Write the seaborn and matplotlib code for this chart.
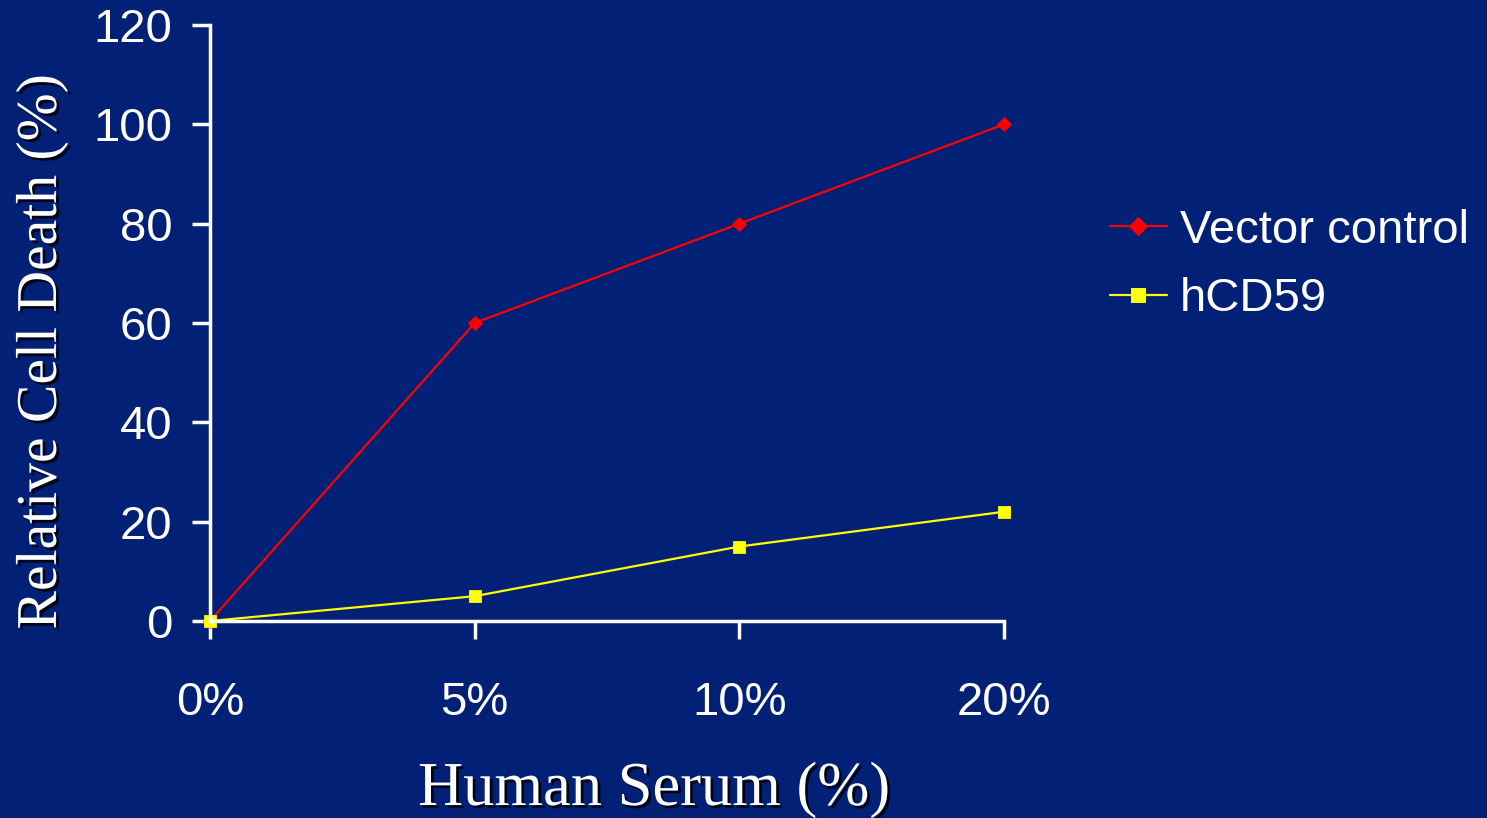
import matplotlib
matplotlib.use("Agg")
import matplotlib.pyplot as plt
import matplotlib.patheffects as pe
import pandas as pd
import seaborn as sns

serum_levels = ["0%", "5%", "10%", "20%"]
vector_control = [0, 60, 80, 100]
hcd59 = [0, 5, 15, 22]
series_names = ["Vector control", "hCD59"]
y_ticks = [0, 20, 40, 60, 80, 100, 120]

bg = "#022075"

df = pd.DataFrame({
    "pos": list(range(len(serum_levels))) * 2,
    "death": vector_control + hcd59,
    "group": [series_names[0]] * len(serum_levels) + [series_names[1]] * len(serum_levels),
})

sns.set_theme(style="white")
plt.rcParams["font.family"] = ["Liberation Sans", "DejaVu Sans"]

fig = plt.figure(figsize=(14.87, 8.18), dpi=100, facecolor=bg)
ax = fig.add_axes([0.1412, 0.2408, 0.5340, 0.7286])
ax.set_facecolor(bg)

sns.lineplot(
    data=df, x="pos", y="death", hue="group", style="group",
    palette={series_names[0]: "#FF0000", series_names[1]: "#FFFF00"},
    markers={series_names[0]: "D", series_names[1]: "s"},
    dashes=False, linewidth=1.6, ax=ax, legend=True,
)
for ln, ms in zip(ax.lines[:2], [7, 9]):
    ln.set_markersize(ms)
    ln.set_markeredgewidth(0.6)
    ln.set_markeredgecolor(ln.get_color())
    ln.set_clip_on(False)

ax.set_xlim(0, len(serum_levels) - 1)
ax.set_ylim(0, 120)
ax.set_xticks(range(len(serum_levels)))
ax.set_xticklabels(serum_levels)
ax.set_yticks(y_ticks)
ax.set_xlabel("")
ax.set_ylabel("")

for s in ["top", "right"]:
    ax.spines[s].set_visible(False)
for s in ["left", "bottom"]:
    ax.spines[s].set_color("white")
    ax.spines[s].set_linewidth(2.5)

ax.tick_params(axis="both", bottom=True, left=True, colors="white", direction="out",
               length=13, width=2.5, labelsize=34, labelcolor="white")
ax.tick_params(axis="x", pad=30)
ax.tick_params(axis="y", pad=14)
ax.grid(False)

shadow = [pe.withSimplePatchShadow(offset=(2, -2), shadow_rgbFace="black", alpha=0.8)]
serif = ["Liberation Serif", "DejaVu Serif"]
fig.text(654 / 1487, 1 - 790 / 818, "Human Serum (%)", family=serif, fontsize=45,
         color="white", ha="center", va="center", path_effects=shadow)
fig.text(42 / 1487, 1 - 352 / 818, "Relative Cell Death (%)", family=serif, fontsize=41.5,
         color="white", ha="center", va="center", rotation=90, path_effects=shadow)

handles, labels = ax.get_legend_handles_labels()
ax.get_legend().remove()
for h, ms in zip(handles, [9, 10]):
    h.set_markersize(ms)
    h.set_linewidth(1.6)
    h.set_markeredgecolor(h.get_color())
    h.set_markerfacecolor(h.get_color())
leg = fig.legend(handles, labels, loc="center left",
                 bbox_to_anchor=(1110 / 1487, 1 - 265 / 818),
                 frameon=False, fontsize=34, handlelength=1.2, handletextpad=0.28,
                 labelspacing=0.52, borderaxespad=0, borderpad=0)
for t in leg.get_texts():
    t.set_color("white")

fig.savefig("out.png", dpi=100, facecolor=bg)
